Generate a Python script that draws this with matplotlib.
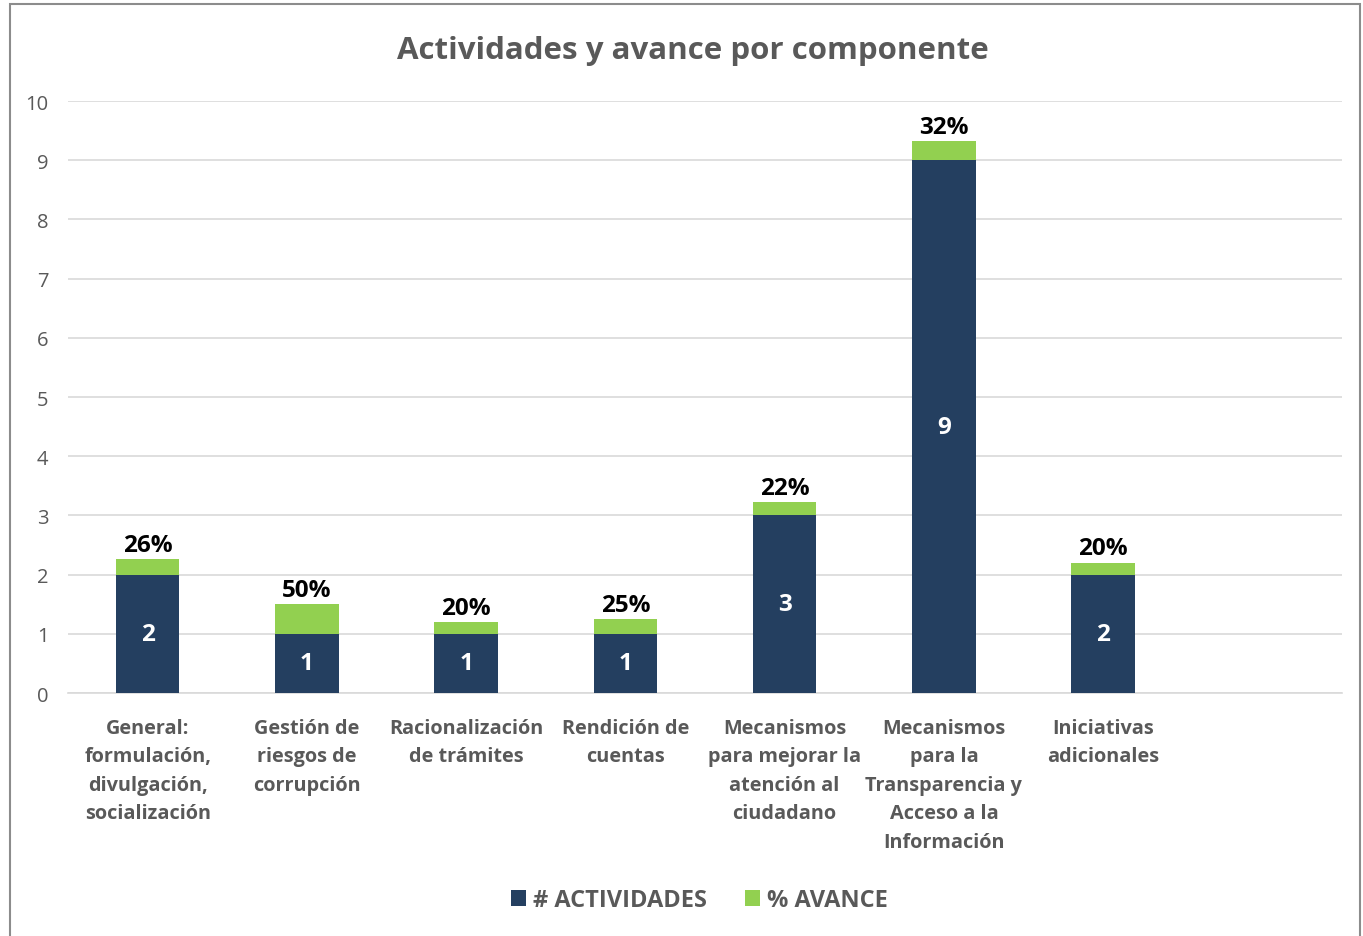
import matplotlib
matplotlib.use('Agg')
from matplotlib import pyplot as plt
from matplotlib.patches import Rectangle
import numpy as np

# Chart data
categorias = [
    'General:\nformulación,\ndivulgación,\nsocialización',
    'Gestión de\nriesgos de\ncorrupción',
    'Racionalización\nde trámites',
    'Rendición de\ncuentas',
    'Mecanismos\npara mejorar la\natención al\nciudadano',
    'Mecanismos\npara la\nTransparencia y\nAcceso a la\nInformación',
    'Iniciativas\nadicionales',
]
actividades = [2, 1, 1, 1, 3, 9, 2]
avance = [0.26, 0.50, 0.20, 0.25, 0.22, 0.32, 0.20]
y_ticks = [0, 1, 2, 3, 4, 5, 6, 7, 8, 9, 10]

NAVY = '#243F60'
GREEN = '#92D050'
GRAY = '#595959'

plt.rcParams['font.family'] = ['Open Sans', 'DejaVu Sans']

fig = plt.figure(figsize=(13.63, 9.37), dpi=100)
ax = fig.add_axes([0.0499, 0.2593, 0.9347, 0.6318])

x = np.arange(len(categorias))
ax.bar(x, actividades, width=0.4, color=NAVY, label='# ACTIVIDADES', zorder=3)
ax.bar(x, avance, width=0.4, bottom=actividades, color=GREEN, label='% AVANCE', zorder=3)

# Labels inside and above the bars
for xi, a, p in zip(x, actividades, avance):
    ax.text(xi, a / 2, str(a), ha='center', va='center', color='white',
            fontsize=17.5, fontweight='bold', zorder=4)
    ax.text(xi, a + p + 0.04, f'{round(p * 100)}%', ha='center', va='bottom',
            color='black', fontsize=17.5, fontweight='bold', zorder=4)

ax.set_xlim(-0.5, 7.5)
ax.set_ylim(0, 10)
ax.set_yticks(y_ticks)
ax.set_xticks(x)
ax.set_xticklabels(categorias, fontsize=14.3, fontweight='bold', color=GRAY,
                   linespacing=1.56)
ax.tick_params(axis='y', labelsize=14.5, labelcolor=GRAY, length=0, pad=14)
ax.tick_params(axis='x', length=0, pad=18)
ax.grid(axis='y', color='#D9D9D9', linewidth=1.2, zorder=0)
for side in ['top', 'right', 'left']:
    ax.spines[side].set_visible(False)
ax.spines['bottom'].set_color('#D9D9D9')
ax.spines['bottom'].set_linewidth(1.2)

fig.suptitle('Actividades y avance por componente', x=0.508, y=0.962,
             fontsize=22.5, fontweight='bold', color=GRAY)

fig.legend(loc='center', bbox_to_anchor=(0.513, 0.038), ncol=2, frameon=False,
           prop={'size': 17, 'weight': 'bold'}, labelcolor=GRAY,
           handlelength=0.65, handleheight=0.7, handletextpad=0.3,
           columnspacing=1.6)

# Chart border
fig.patches.append(Rectangle((10 / 1363, -0.05), 1350 / 1363, 1.05 - 5 / 937,
                             transform=fig.transFigure, fill=False,
                             edgecolor='#8C8C8C', linewidth=1.5))

fig.savefig('out.png', dpi=100)
